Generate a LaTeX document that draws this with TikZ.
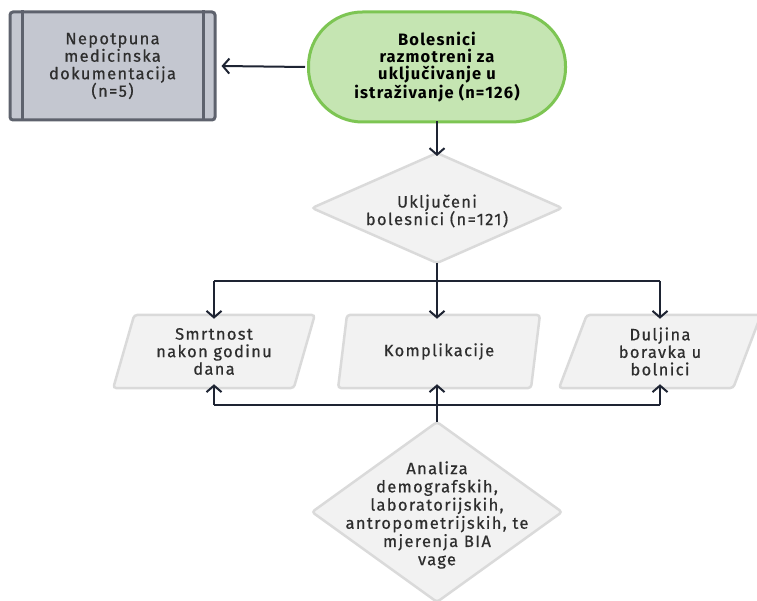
\documentclass[tikz,border=0pt]{standalone}
\usepackage{fontspec}
\setmainfont{Fira Sans}
\newfontfamily\boxfont[LetterSpace=8,FakeBold=0.6]{Fira Sans}
\newfontfamily\boldboxfont[LetterSpace=7]{Fira Sans}
\usetikzlibrary{shapes.geometric,arrows.meta,calc}
\definecolor{predfill}{HTML}{C4C7D0}
\definecolor{preddraw}{HTML}{5E626D}
\definecolor{termfill}{HTML}{C5E5B2}
\definecolor{termdraw}{HTML}{7DC553}
\definecolor{lightfill}{HTML}{F2F2F2}
\definecolor{lightdraw}{HTML}{DADADA}
\definecolor{linecol}{HTML}{1E2433}
\definecolor{textcol}{HTML}{2E2E2E}
\begin{document}
\begin{tikzpicture}[x=1pt,y=-1pt,
  txt/.style={font=\boxfont\fontsize{16.5}{17.5}\selectfont, text=textcol, align=center},
  predbox/.style={draw=preddraw, fill=predfill, line width=3pt, rounded corners=3pt,
    minimum width=205pt, minimum height=108pt, inner sep=0pt, txt},
  termbox/.style={draw=termdraw, fill=termfill, line width=3pt, rounded corners=54pt,
    minimum width=257pt, minimum height=110pt, inner sep=0pt, align=center,
    font=\boldboxfont\fontsize{16.5}{17}\selectfont\bfseries, text=black},
  decshape/.style={draw=lightdraw, fill=lightfill, line width=2.5pt, rounded corners=3pt},
  dectext/.style={inner sep=0pt, txt},
  iobox/.style={trapezium, trapezium left angle=72, trapezium right angle=108, trapezium stretches=true,
    draw=lightdraw, fill=lightfill, line width=2.5pt, rounded corners=3pt,
    minimum width=202pt, minimum height=73pt, inner sep=0pt, txt},
  conn/.style={draw=linecol, line width=2pt, -{Straight Barb[length=6.5pt,width=15pt,line width=2pt]}},
  plain/.style={draw=linecol, line width=2pt}
]
\useasboundingbox (0,0) rectangle (757,601);

\node[predbox] (pred) at (112.5,66) {Nepotpuna\\medicinska\\dokumentacija\\(n=5)};
\draw[preddraw, line width=3pt] ([xshift=14pt]pred.north west) -- ([xshift=14pt]pred.south west);
\draw[preddraw, line width=3pt] ([xshift=-13pt]pred.north east) -- ([xshift=-13pt]pred.south east);

\node[termbox] (term) at (437,67) {Bolesnici\\razmotreni za\\uključivanje u\\istraživanje (n=126)};

% decision 1
\coordinate (inc) at (437,208);
\coordinate (inctop) at (437,153);
\coordinate (incbot) at (437,263);
\draw[decshape] (inctop) -- (562,208) -- (incbot) -- (312,208) -- cycle;
\node[dectext] (inctext) at (437,211) {Uključeni\\bolesnici (n=121)};

\node[iobox] (smrt) at (214,351.5) {Smrtnost\\nakon godinu\\dana};
\node[iobox] (komp) at (439,351.5) {Komplikacije};
\node[iobox] (dulj) at (660,351.5) {Duljina\\boravka u\\bolnici};

% decision 2
\coordinate (analtop) at (437,422);
\draw[decshape] (analtop) -- (562,512) -- (437,602) -- (312,512) -- cycle;
\node[dectext, font=\boxfont\fontsize{16.5}{18.2}\selectfont] (analtext) at (437,515) {Analiza\\demografskih,\\laboratorijskih,\\antropometrijskih, te\\mjerenja BIA\\vage};

\coordinate (jtop) at (437,281);
\coordinate (jbot) at (437,405);

\draw[conn] (term.west) ++(-2pt,0) -- ([xshift=5pt]pred.east);
\draw[conn] (term.south) ++(0,2pt) -- ([yshift=-3pt]inctop);
\draw[plain] (incbot) -- (jtop);
\draw[plain] (smrt.north |- jtop) -- (dulj.north |- jtop);
\draw[conn] (smrt.north |- jtop) -- ([yshift=-5pt]smrt.north);
\draw[conn] (jtop) -- ([yshift=-5pt]komp.north -| jtop);
\draw[conn] (dulj.north |- jtop) -- ([yshift=-5pt]dulj.north);

\draw[plain] (analtop) -- (jbot);
\draw[plain] (smrt.south |- jbot) -- (dulj.south |- jbot);
\draw[conn] (smrt.south |- jbot) -- ([yshift=5pt]smrt.south);
\draw[conn] (jbot) -- ([yshift=5pt]komp.south -| jbot);
\draw[conn] (dulj.south |- jbot) -- ([yshift=5pt]dulj.south);
\end{tikzpicture}
\end{document}
